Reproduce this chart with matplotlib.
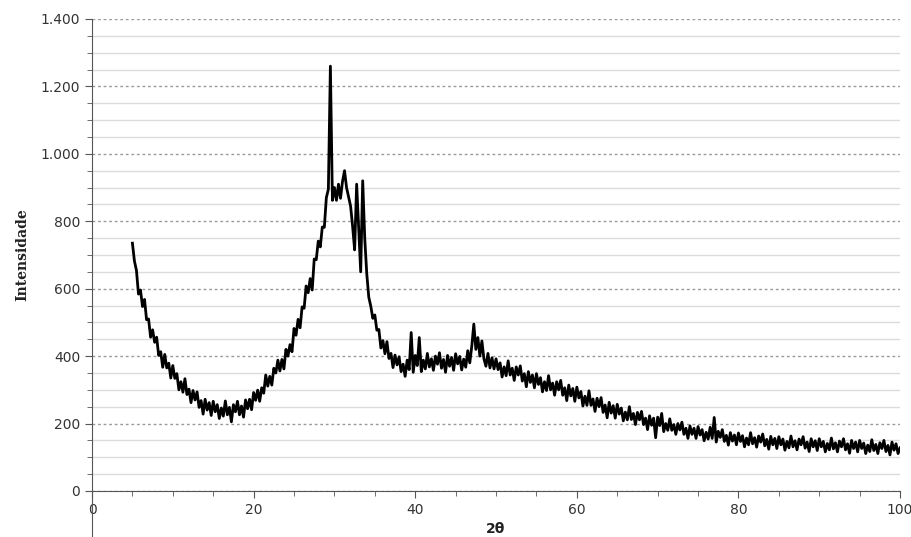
import numpy as np
import matplotlib
matplotlib.use("Agg")
import matplotlib.pyplot as plt
from matplotlib.ticker import MultipleLocator, FuncFormatter

# scan grid: 2theta from 5 to 100 deg, step 0.25 deg
theta_start = 5.0
theta_step = 0.25

# intensity, one row per 5 degrees (20 values)
int_05_10 = [735, 682, 654, 584, 596, 547, 568, 508, 510, 456, 478, 441, 456, 402, 413, 367, 405, 365, 379, 335]
int_10_15 = [372, 334, 348, 300, 324, 293, 333, 286, 302, 262, 298, 270, 294, 248, 268, 228, 272, 240, 262, 224]
int_15_20 = [266, 235, 256, 215, 246, 222, 267, 226, 248, 205, 256, 235, 266, 226, 252, 219, 270, 244, 272, 241]
int_20_25 = [292, 269, 299, 266, 306, 290, 344, 311, 340, 314, 364, 350, 388, 356, 390, 362, 420, 400, 434, 413]
int_25_30 = [482, 462, 509, 484, 546, 542, 608, 588, 630, 596, 688, 686, 741, 724, 783, 782, 870, 895, 1260, 862]
int_30_35 = [900, 862, 910, 868, 918, 950, 900, 872, 845, 785, 715, 910, 780, 650, 920, 750, 645, 575, 548, 512]
int_35_40 = [522, 477, 479, 424, 446, 407, 443, 393, 408, 366, 403, 374, 398, 354, 376, 340, 388, 360, 470, 352]
int_40_45 = [402, 372, 455, 354, 388, 362, 408, 368, 392, 358, 400, 376, 410, 364, 390, 352, 402, 370, 396, 358]
int_45_50 = [407, 377, 399, 359, 391, 367, 416, 380, 430, 495, 420, 455, 400, 445, 392, 370, 408, 365, 395, 362]
int_50_55 = [392, 360, 380, 338, 368, 342, 386, 344, 364, 328, 368, 344, 371, 326, 348, 309, 354, 322, 344, 306]
int_55_60 = [348, 316, 336, 294, 324, 298, 342, 300, 320, 284, 324, 300, 328, 284, 306, 268, 314, 282, 304, 266]
int_60_65 = [308, 276, 295, 252, 281, 254, 297, 254, 273, 236, 275, 250, 277, 233, 255, 217, 263, 231, 253, 216]
int_65_70 = [257, 228, 246, 208, 234, 211, 250, 212, 230, 197, 233, 211, 236, 197, 216, 182, 223, 195, 216, 158]
int_70_75 = [219, 194, 230, 176, 200, 180, 214, 180, 197, 168, 200, 181, 204, 168, 186, 156, 193, 168, 186, 156]
int_75_80 = [191, 166, 182, 149, 174, 154, 189, 156, 218, 145, 177, 159, 182, 147, 165, 136, 173, 148, 166, 137]
int_80_85 = [172, 147, 164, 131, 157, 137, 173, 140, 158, 130, 163, 145, 169, 134, 153, 124, 162, 137, 156, 126]
int_85_90 = [161, 137, 154, 121, 147, 128, 163, 131, 149, 122, 154, 137, 161, 127, 145, 117, 155, 131, 149, 120]
int_90_95 = [155, 131, 147, 116, 141, 122, 157, 125, 143, 116, 148, 131, 155, 122, 140, 112, 150, 126, 145, 116]
int_95_100 = [150, 126, 142, 111, 136, 117, 152, 120, 138, 111, 143, 126, 150, 117, 135, 107, 145, 121, 140, 111, 128]

intensity = np.array(int_05_10 + int_10_15 + int_15_20 + int_20_25 + int_25_30 +
                     int_30_35 + int_35_40 + int_40_45 + int_45_50 + int_50_55 +
                     int_55_60 + int_60_65 + int_65_70 + int_70_75 + int_75_80 +
                     int_80_85 + int_85_90 + int_90_95 + int_95_100, dtype=float)
two_theta = theta_start + theta_step * np.arange(len(intensity))


def thousands(v, pos):
    return "{:,.0f}".format(v).replace(",", ".")


fig = plt.figure(figsize=(9.11, 5.37), dpi=100)
ax = fig.add_axes([0.101, 0.0857, 0.887, 0.879])

ax.plot(two_theta, intensity, color="black", lw=2.0, zorder=3)

ax.set_xlim(0, 100)
ax.set_ylim(0, 1400)
ax.xaxis.set_major_locator(MultipleLocator(20))
ax.xaxis.set_minor_locator(MultipleLocator(5))
ax.yaxis.set_major_locator(MultipleLocator(200))
ax.yaxis.set_minor_locator(MultipleLocator(50))
ax.yaxis.set_major_formatter(FuncFormatter(thousands))

# grid: dotted at majors, faint solid at minors
ax.grid(True, axis="y", which="major", color="#9a9a9a", ls=(0, (2, 2)), lw=1.0)
ax.grid(True, axis="y", which="minor", color="#dcdcdc", ls="-", lw=1.0)
ax.set_axisbelow(True)

for s in ["top", "right"]:
    ax.spines[s].set_visible(False)
ax.spines["left"].set_color("#555555")
ax.spines["bottom"].set_color("#555555")
ax.spines["left"].set_bounds(-140, 1400)

ax.tick_params(which="major", direction="out", length=5, color="#555555",
               labelsize=10, labelcolor="#333333")
ax.tick_params(which="minor", direction="out", length=3.5, color="#555555")

ax.set_ylabel("Intensidade", family="DejaVu Serif", fontweight="bold", fontsize=10,
              color="#222222", labelpad=8)
ax.set_xlabel("2θ", fontweight="bold", fontsize=10, color="#222222", labelpad=4)

plt.savefig("out.png", dpi=100)
